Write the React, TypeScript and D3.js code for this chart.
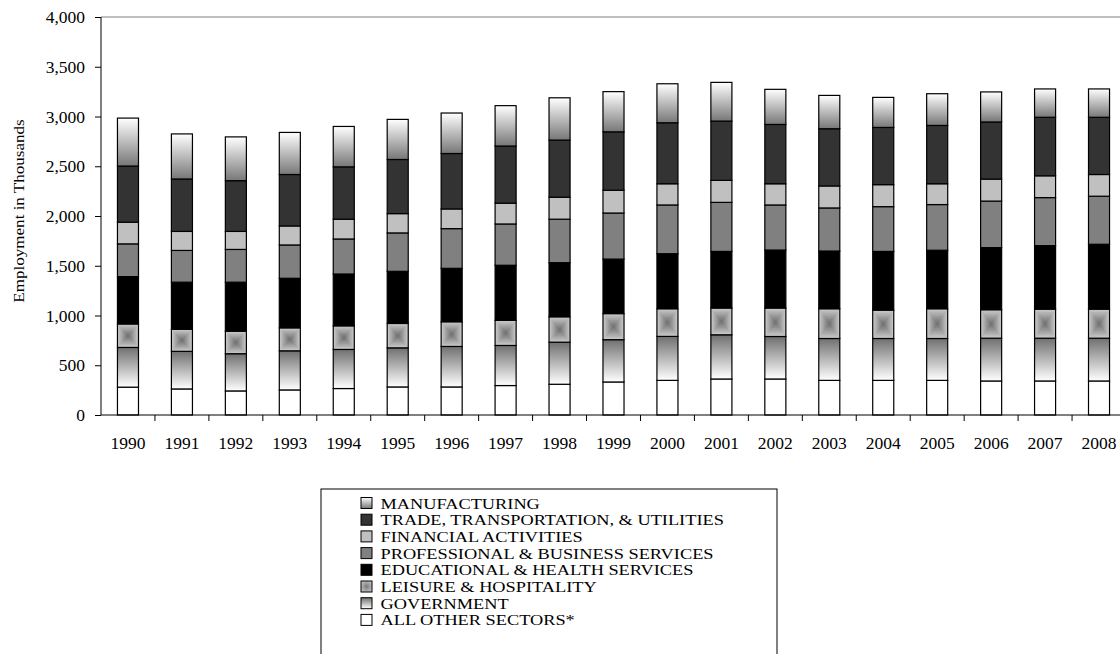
import React, { useEffect, useRef } from 'react';
import * as d3 from 'd3';

const years = ['1990', '1991', '1992', '1993', '1994', '1995', '1996', '1997', '1998', '1999',
  '2000', '2001', '2002', '2003', '2004', '2005', '2006', '2007', '2008'];

// bottom to top of each stack
const allOther = [280, 262, 242, 252, 266, 282, 282, 296, 309, 332, 348, 362, 362, 348, 348, 348, 342, 342, 342];
const government = [399, 378, 374, 393, 393, 393, 407, 403, 423, 425, 442, 444, 427, 421, 421, 421, 430, 430, 430];
const leisure = [236, 222, 226, 231, 237, 245, 248, 252, 255, 262, 278, 269, 286, 299, 285, 299, 286, 292, 292];
const educational = [476, 473, 493, 498, 521, 524, 537, 554, 544, 548, 553, 569, 583, 580, 590, 588, 624, 638, 652];
const professional = [329, 319, 329, 335, 352, 386, 399, 415, 437, 463, 490, 493, 453, 433, 450, 459, 468, 483, 483];
const financial = [218, 191, 181, 191, 199, 194, 198, 209, 221, 229, 213, 221, 213, 221, 221, 209, 221, 219, 218];
const trade = [564, 527, 510, 517, 526, 544, 557, 574, 574, 587, 613, 596, 596, 575, 575, 586, 574, 588, 575];
const manufacturing = [482, 453, 440, 423, 406, 403, 407, 406, 425, 404, 392, 389, 353, 335, 302, 319, 302, 285, 285];

const yTicks = [0, 500, 1000, 1500, 2000, 2500, 3000, 3500, 4000];

const series = [
  { key: 'other', name: 'ALL OTHER SECTORS*', values: allOther, fill: '#ffffff' },
  { key: 'gov', name: 'GOVERNMENT', values: government, fill: 'url(#govGrad)' },
  { key: 'leis', name: 'LEISURE & HOSPITALITY', values: leisure, fill: 'url(#leisGrad)' },
  { key: 'edu', name: 'EDUCATIONAL & HEALTH SERVICES', values: educational, fill: '#000000' },
  { key: 'prof', name: 'PROFESSIONAL & BUSINESS SERVICES', values: professional, fill: '#808080' },
  { key: 'fin', name: 'FINANCIAL ACTIVITIES', values: financial, fill: '#c0c0c0' },
  { key: 'trade', name: 'TRADE, TRANSPORTATION, & UTILITIES', values: trade, fill: '#333333' },
  { key: 'manuf', name: 'MANUFACTURING', values: manufacturing, fill: 'url(#manufGrad)' },
];

const App = () => {
  const ref = useRef<SVGSVGElement>(null);

  useEffect(() => {
    const width = 1120;
    const height = 654;
    const left = 101, right = 1126, top = 17, bottom = 415;
    const font = '"Liberation Serif", "Times New Roman", serif';

    const svg = d3.select(ref.current)
      .attr('width', width)
      .attr('height', height);
    svg.selectAll('*').remove();

    const defs = svg.append('defs');
    const manuf = defs.append('linearGradient').attr('id', 'manufGrad')
      .attr('x1', 0).attr('y1', 0).attr('x2', 0).attr('y2', 1);
    manuf.append('stop').attr('offset', '0%').attr('stop-color', '#ffffff');
    manuf.append('stop').attr('offset', '100%').attr('stop-color', '#777777');
    const gov = defs.append('linearGradient').attr('id', 'govGrad')
      .attr('x1', 0).attr('y1', 0).attr('x2', 0).attr('y2', 1);
    gov.append('stop').attr('offset', '0%').attr('stop-color', '#707070');
    gov.append('stop').attr('offset', '100%').attr('stop-color', '#ffffff');
    const leis = defs.append('radialGradient').attr('id', 'leisGrad')
      .attr('cx', 0.5).attr('cy', 0.5).attr('r', 0.62);
    leis.append('stop').attr('offset', '0%').attr('stop-color', '#7a7a7a');
    leis.append('stop').attr('offset', '100%').attr('stop-color', '#c8c8c8');

    const x = d3.scaleBand().domain(years).range([left, right]).padding(0);
    const y = d3.scaleLinear().domain([0, 4000]).range([bottom, top]);
    const barW = x.bandwidth() * 0.39;
    const barX = (yr: string) => (x(yr) as number) + (x.bandwidth() - barW) / 2;

    const table = years.map((yr, i) => {
      const row: any = { year: yr };
      series.forEach(s => { row[s.key] = s.values[i]; });
      return row;
    });
    const stacked = d3.stack().keys(series.map(s => s.key))(table);

    // top border of plot area
    svg.append('line')
      .attr('x1', left).attr('x2', width)
      .attr('y1', top).attr('y2', top)
      .attr('stroke', '#808080').attr('stroke-width', 1);

    // rectangular "from centre" shading for leisure
    const shade = d3.interpolateRgb('#c8c8c8', '#747474');
    const steps = d3.range(10);

    stacked.forEach((layer, li) => {
      const g = svg.append('g');
      if (series[li].key === 'leis') {
        layer.forEach((d: any) => {
          const x0 = barX(d.data.year);
          const y0 = y(d[1]);
          const h = y(d[0]) - y(d[1]);
          g.append('g').selectAll('rect')
            .data(steps)
            .join('rect')
            .attr('x', k => x0 + (k / steps.length) * barW / 2)
            .attr('y', k => y0 + (k / steps.length) * h / 2)
            .attr('width', k => barW * (1 - k / steps.length))
            .attr('height', k => h * (1 - k / steps.length))
            .attr('fill', k => shade(k / (steps.length - 1)));
        });
      }
      g.append('g')
        .selectAll('rect')
        .data(layer)
        .join('rect')
        .attr('x', (d: any) => barX(d.data.year))
        .attr('width', barW)
        .attr('y', d => y(d[1]))
        .attr('height', d => y(d[0]) - y(d[1]))
        .attr('fill', series[li].key === 'leis' ? 'none' : series[li].fill)
        .attr('stroke', '#000')
        .attr('stroke-width', 1.2);
    });

    // Y-axis
    const yAxis = svg.append('g')
      .attr('transform', `translate(${left}, 0)`)
      .call(d3.axisLeft(y).tickValues(yTicks).tickFormat(d3.format(',') as any).tickSize(6).tickPadding(10));
    yAxis.select('.domain').attr('stroke', '#000').attr('d', `M0,${top}V${bottom}`);
    yAxis.selectAll('text').attr('font-family', font).attr('font-size', 17.5).attr('fill', '#000');

    // X-axis
    const xAxis = svg.append('g')
      .attr('transform', `translate(0, ${bottom})`);
    xAxis.append('line')
      .attr('x1', left).attr('x2', width)
      .attr('stroke', '#000');
    xAxis.selectAll('.tick')
      .data(years.slice(1))
      .join('line')
      .attr('x1', d => x(d) as number).attr('x2', d => x(d) as number)
      .attr('y1', 0).attr('y2', 6)
      .attr('stroke', '#000');
    xAxis.selectAll('.lbl')
      .data(years)
      .join('text')
      .attr('x', d => (x(d) as number) + x.bandwidth() / 2)
      .attr('y', 33.5)
      .attr('text-anchor', 'middle')
      .attr('font-family', font)
      .attr('font-size', 17.5)
      .text(d => d);

    const titleScale = 1.1;
    svg.append('text')
      .attr('transform', `rotate(-90) scale(${titleScale},1)`)
      .attr('x', -211 / titleScale)
      .attr('y', 24)
      .attr('text-anchor', 'middle')
      .attr('font-family', font)
      .attr('font-size', 15.5)
      .text('Employment in Thousands');

    // Legend
    const lg = svg.append('g');
    lg.append('rect')
      .attr('x', 321).attr('y', 489)
      .attr('width', 456).attr('height', 200)
      .attr('fill', '#fff').attr('stroke', '#000');
    const items = series.slice().reverse();
    const legScale = 1.19;
    const row = lg.selectAll('g.item')
      .data(items)
      .join('g')
      .attr('transform', (d, i) => `translate(361, ${503 + i * 16.7})`);
    row.append('rect')
      .attr('x', 0).attr('y', -5.5)
      .attr('width', 11).attr('height', 11)
      .attr('fill', d => d.fill)
      .attr('stroke', '#000').attr('stroke-width', 1);
    row.append('text')
      .attr('transform', `translate(19.5, 5.5) scale(${legScale},1)`)
      .attr('font-family', font)
      .attr('font-size', 15.4)
      .text(d => d.name);
  }, []);

  return (
    <svg ref={ref} style={{ position: 'absolute', left: 0, top: 0, background: '#fff' }}></svg>
  );
};

export default App;
